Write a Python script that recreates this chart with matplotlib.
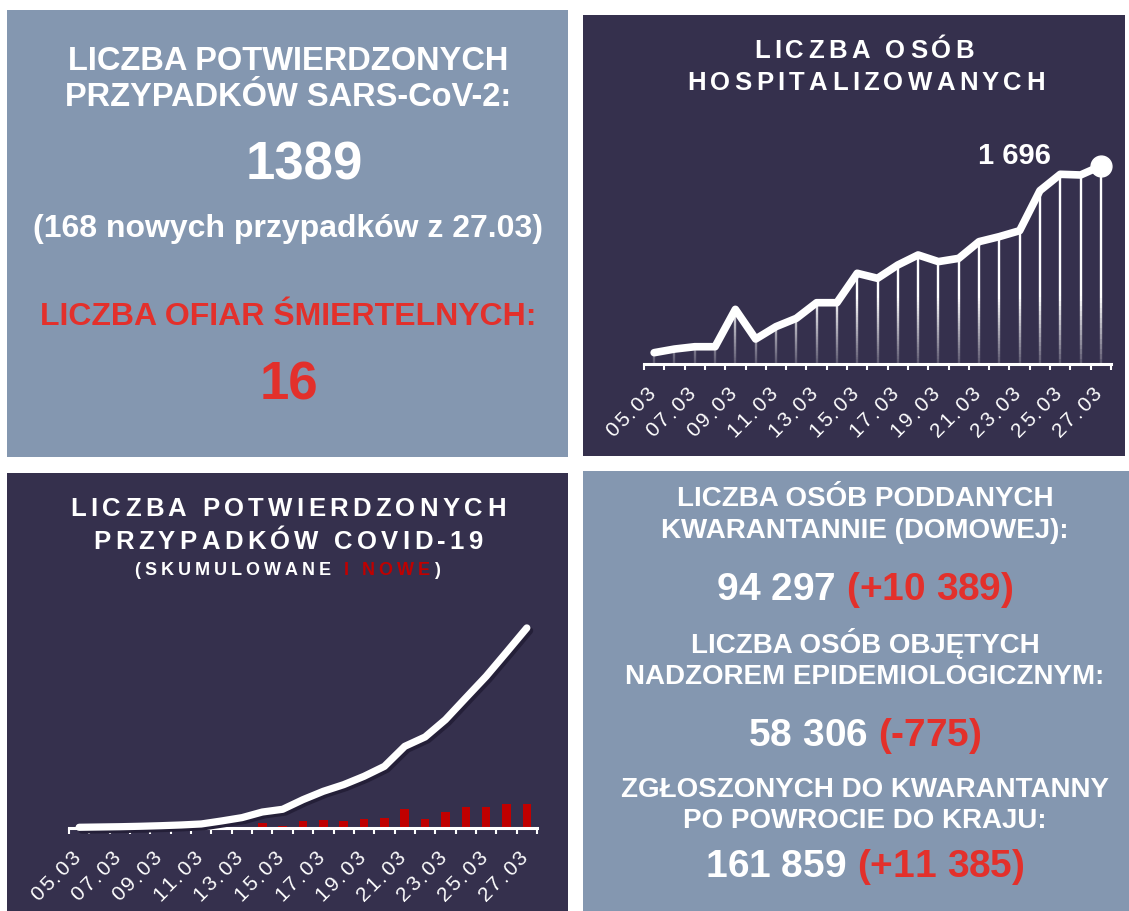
import matplotlib
matplotlib.use('Agg')
import matplotlib.pyplot as plt
import matplotlib.patheffects as pe
import numpy as np
from matplotlib.patches import Rectangle
from matplotlib.font_manager import FontProperties
from matplotlib.collections import LineCollection

dates = ['05.03', '06.03', '07.03', '08.03', '09.03', '10.03', '11.03', '12.03',
         '13.03', '14.03', '15.03', '16.03', '17.03', '18.03', '19.03', '20.03',
         '21.03', '22.03', '23.03', '24.03', '25.03', '26.03', '27.03']
hospital = [97, 128, 148, 148, 468, 214, 320, 391, 525, 525, 777, 734,
            848, 934, 877, 905, 1048, 1091, 1142, 1485, 1625, 1619, 1696]
cumulative = [5, 7, 9, 12, 16, 21, 28, 49, 72, 111, 130, 197,
              255, 301, 359, 428, 567, 632, 752, 903, 1053, 1220, 1389]
new_cases = [0, 0, 0, 0, 0, 0, 0, 1, 5, 32, 16, 49,
             58, 46, 63, 67, 134, 63, 113, 146, 146, 169, 165]

confirmed = '1389'
confirmed_new = '(168 nowych przypadków z 27.03)'
deaths = '16'
quarantine, quarantine_diff = '94 297', '(+10 389)'
surveillance, surveillance_diff = '58 306', '(-775)'
returned, returned_diff = '161 859', '(+11 385)'

LIGHT = '#8497B0'
DARK = '#35304D'
RED = '#E3302B'
DARKRED = '#C00000'
FONT = 'Liberation Sans'

W, H = 1129, 911
fig = plt.figure(figsize=(W / 100, H / 100), dpi=100)
fig.patch.set_facecolor('white')
renderer = fig.canvas.get_renderer()


def box(x0, y0, x1, y1, color):
    fig.add_artist(Rectangle((x0 / W, 1 - y1 / H), (x1 - x0) / W, (y1 - y0) / H,
                             transform=fig.transFigure, facecolor=color,
                             edgecolor='none', zorder=0))


def label(x, y, s, size, color='white'):
    # plain centred line, y = baseline in pixels from the top
    fig.text(x / W, 1 - y / H, s, ha='center', va='baseline', color=color,
             fontfamily=FONT, fontweight='bold', fontsize=size)


def spaced(x, y, parts, size, track=0.0, weight='bold', ha='center', angle=0):
    # letter-spaced text drawn char by char, y = baseline in pixels from the top
    prop = FontProperties(family=FONT, weight=weight, size=size)
    chars = [(c, col) for txt, col in parts for c in txt]

    def width(s):
        return renderer.get_text_width_height_descent(s, prop, ismath=False)[0]

    base = width('HH')
    adv = [width('H' + c + 'H') - base for c, _ in chars]
    total = sum(adv) + track * (len(chars) - 1)
    a = np.radians(angle)
    u = np.array([np.cos(a), np.sin(a)])
    p = np.array([x, H - y], dtype=float)
    if ha == 'center':
        p = p - u * total / 2
    elif ha == 'right':
        p = p - u * total
    off = 0.0
    for (c, col), w in zip(chars, adv):
        q = p + u * off
        fig.text(q[0] / W, q[1] / H, c, fontproperties=prop, color=col,
                 rotation=angle, rotation_mode='anchor', ha='left', va='baseline')
        off += w + track


# panels
box(7, 10, 568, 457, LIGHT)
box(583, 15, 1125, 456, DARK)
box(7, 473, 568, 911, DARK)
box(583, 471, 1129, 911, LIGHT)

# top left
label(288, 70, 'LICZBA POTWIERDZONYCH', 23.5)
label(288, 106, 'PRZYPADKÓW SARS-CoV-2:', 23.5)
label(304, 180, confirmed, 38)
label(288, 237, confirmed_new, 23)
label(288, 325, 'LICZBA OFIAR ŚMIERTELNYCH:', 23, RED)
label(289, 400, deaths, 38, RED)

# bottom right
label(865, 506, 'LICZBA OSÓB PODDANYCH', 20)
label(865, 538, 'KWARANTANNIE (DOMOWEJ):', 20)
spaced(865, 600, [(quarantine + ' ', 'white'), (quarantine_diff, RED)], 28)
label(865, 653, 'LICZBA OSÓB OBJĘTYCH', 20)
label(865, 684, 'NADZOREM EPIDEMIOLOGICZNYM:', 20)
spaced(865, 746, [(surveillance + ' ', 'white'), (surveillance_diff, RED)], 28)
label(865, 797, 'ZGŁOSZONYCH DO KWARANTANNY', 20)
label(865, 828, 'PO POWROCIE DO KRAJU:', 20)
spaced(865, 877, [(returned + ' ', 'white'), (returned_diff, RED)], 28)

# titles of the dark panels
spaced(864, 58, [('LICZBA OSÓB', 'white')], 18.5, track=4.3)
spaced(866, 90, [('HOSPITALIZOWANYCH', 'white')], 18.5, track=4.3)
spaced(288, 516, [('LICZBA POTWIERDZONYCH', 'white')], 18.5, track=4.3)
spaced(288, 549, [('PRZYPADKÓW COVID-19', 'white')], 18.5, track=4.3)
spaced(287, 575, [('(SKUMULOWANE ', 'white'), ('I NOWE', DARKRED), (')', 'white')],
       13, track=4)

x = np.arange(len(dates))


def date_axis(ax):
    ax.set_xlim(-0.5, len(dates) - 0.5)
    ax.set_facecolor('none')
    for side in ['top', 'right', 'left']:
        ax.spines[side].set_visible(False)
    ax.spines['bottom'].set_color('white')
    ax.spines['bottom'].set_linewidth(2.2)
    ax.set_xticks(np.arange(-0.5, len(dates), 1))
    ax.set_xticklabels([])
    ax.set_yticks([])
    ax.tick_params(axis='x', colors='white', length=4.5, width=1.5, direction='out')
    for i in range(0, len(dates), 2):
        px, py = ax.transData.transform((i, 0))
        spaced(px + 2, H - py + 31, [(dates[i], 'white')], 15, track=2.2,
               weight='normal', ha='right', angle=45)


# hospitalised
axh = fig.add_axes([644 / W, 1 - 364 / H, (1111 - 644) / W, (364 - 120) / H])
axh.set_ylim(0, 2090)
date_axis(axh)
segs, cols = [], []
for xi, v in zip(x, hospital):
    ys = np.linspace(0, v, 40)
    for a, b in zip(ys[:-1], ys[1:]):
        segs.append([(xi, a), (xi, b)])
        cols.append((1, 1, 1, min(1.0, 0.18 + (a + b) / 2 / 700)))
axh.add_collection(LineCollection(segs, colors=cols, linewidths=1.7, zorder=1))
axh.plot(x, hospital, color='white', lw=5.5, solid_capstyle='round',
         solid_joinstyle='round', zorder=3, clip_on=False)
axh.plot(x[-1], hospital[-1], 'o', ms=15, color='white', zorder=4, clip_on=False)
axh.annotate(f'{hospital[-1]:,}'.replace(',', ' '), (x[-1], hospital[-1]),
             xytext=(-86, 2), textcoords='offset pixels', ha='center',
             va='baseline', color='white', fontfamily=FONT, fontweight='bold',
             fontsize=21)

# cumulative and new cases
axc = fig.add_axes([69 / W, 1 - 828 / H, (537 - 69) / W, (828 - 600) / H])
axc.set_ylim(0, 1583)
date_axis(axc)
axc.bar(x, new_cases, width=0.42, color=DARKRED, zorder=2)
axc.plot(x, cumulative, color='white', lw=5.2, solid_capstyle='round',
         solid_joinstyle='round', zorder=3, clip_on=False,
         path_effects=[pe.SimpleLineShadow(offset=(2, -2), shadow_color='#241f38',
                                           alpha=1), pe.Normal()])

fig.savefig('out.png', dpi=100)
